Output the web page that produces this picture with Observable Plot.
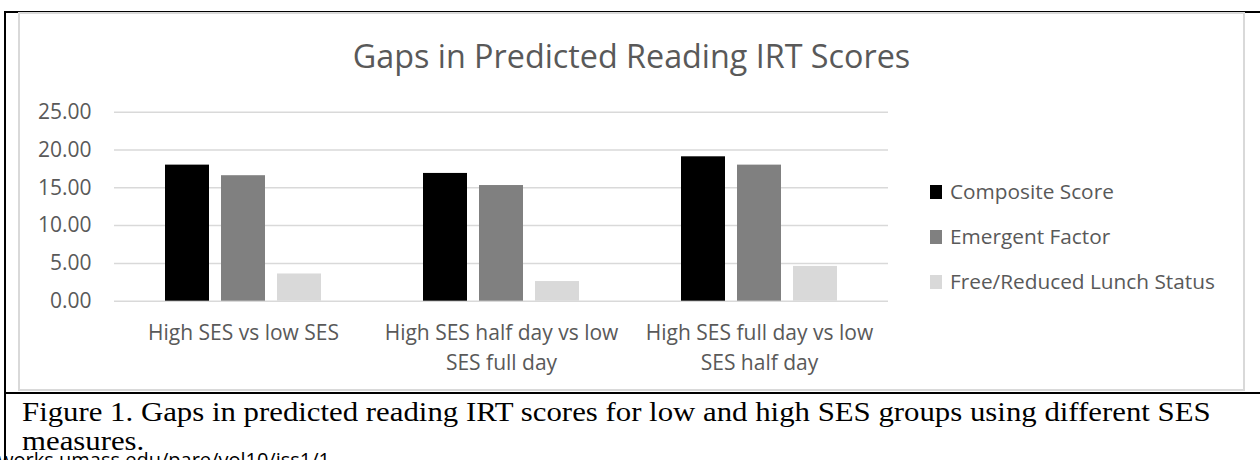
<!DOCTYPE html>
<html>
<head>
<meta charset="utf-8">
<script src="https://cdn.jsdelivr.net/npm/d3@7"></script>
<script src="https://cdn.jsdelivr.net/npm/@observablehq/plot@0.6"></script>
<style>
  html, body { margin: 0; padding: 0; background: #fff; }
  #page { position: relative; width: 1260px; height: 460px; overflow: hidden; background: #fff; }
  .blk { position: absolute; background: #000; }
  #frame { position: absolute; left: 18px; top: 12px; width: 1223px; height: 375px; border: 2px solid #d9d9d9; background: #fff; }
  #title { position: absolute; left: 18px; width: 1227px; top: 39px; text-align: center; font-family: "Open Sans", sans-serif; font-size: 32.3px; line-height: 32px; color: #595959; white-space: nowrap; }
  #chart { position: absolute; left: 20px; top: 90px; }
  .lg-sw { position: absolute; width: 12px; height: 14px; }
  .lg-tx { position: absolute; font-family: "Open Sans", sans-serif; font-size: 20.8px; line-height: 20px; color: #595959; white-space: nowrap; }
  #caption { position: absolute; left: 22px; top: 398px; font-family: "Liberation Serif", serif; font-size: 28px; line-height: 28.5px; color: #000; white-space: nowrap; transform: scaleX(1.1); transform-origin: 0 0; }
  #url { position: absolute; right: 930px; top: 450px; font-family: "Open Sans", sans-serif; font-size: 20px; line-height: 20px; color: #000; white-space: nowrap; }
</style>
</head>
<body>
<div id="page">
  <div class="blk" style="left:4px;top:11px;width:1256px;height:2px;"></div>
  <div class="blk" style="left:4px;top:11px;width:2px;height:449px;"></div>
  <div class="blk" style="left:4px;top:392px;width:1256px;height:2px;"></div>
  <div id="frame"></div>
  <div id="title"></div>
  <div id="chart"></div>
  <div id="legend"></div>
  <div id="url"></div>
  <div id="caption"></div>
</div>
<script>
const titleText = "Gaps in Predicted Reading IRT Scores";
const categories = ["High SES vs low SES", "High SES half day vs low SES full day", "High SES full day vs low SES half day"];
const categoryLabels = ["High SES vs low SES", "High SES half day vs low\nSES full day", "High SES full day vs low\nSES half day"];
const series = ["Composite Score", "Emergent Factor", "Free/Reduced Lunch Status"];
const composite = [18.0, 16.9, 19.1];
const emergent = [16.6, 15.3, 18.0];
const freeLunch = [3.6, 2.6, 4.6];
const seriesColors = ["#000000", "#808080", "#d9d9d9"];
const yTicks = [0, 5, 10, 15, 20, 25];
const captionLines = ["Figure 1. Gaps in predicted reading IRT scores for low and high SES groups using different SES", "measures."];
const urlText = "https://scholarworks.umass.edu/pare/vol10/iss1/1";

const values = [composite, emergent, freeLunch];
const rows = [];
categories.forEach((c, i) => series.forEach((s, j) => rows.push({category: c, series: s, value: values[j][i]})));

document.getElementById("title").textContent = titleText;

const fmt = d3.format(".2f");
const chart = Plot.plot({
  width: 880,
  height: 300,
  marginLeft: 93,
  marginRight: 11.3,
  marginTop: 21.7,
  marginBottom: 89.3,
  style: {fontFamily: "Open Sans", fontSize: "21px", color: "#595959", background: "transparent", overflow: "visible"},
  fx: {domain: categories, padding: 0, label: null},
  x: {domain: series, paddingInner: 0.21, paddingOuter: 0.87, axis: null},
  y: {domain: [0, 25], label: null},
  color: {domain: series, range: seriesColors},
  marks: [
    Plot.ruleY(yTicks, {stroke: "#d9d9d9", strokeWidth: 1.5}),
    Plot.barY(rows, {fx: "category", x: "series", y: "value", fill: "series", inset: 0}),
    Plot.axisY({ticks: yTicks, tickSize: 0, tickPadding: 23, tickFormat: fmt, label: null, fontSize: 21}),
    Plot.axisFx({anchor: "bottom", tickSize: 0, tickPadding: 17, lineHeight: 1.45, label: null, fontSize: 21,
      tickFormat: d => categoryLabels[categories.indexOf(d)]})
  ]
});
document.getElementById("chart").appendChild(chart);

const legend = document.getElementById("legend");
const baselines = [199, 244, 289];
series.forEach((s, i) => {
  const sw = document.createElement("div");
  sw.className = "lg-sw";
  sw.style.left = "930px";
  sw.style.top = (baselines[i] - 14) + "px";
  sw.style.background = seriesColors[i];
  legend.appendChild(sw);
  const tx = document.createElement("div");
  tx.className = "lg-tx";
  tx.style.left = "950px";
  tx.style.top = (baselines[i] - 18.2) + "px";
  tx.textContent = s;
  legend.appendChild(tx);
});

document.getElementById("caption").innerHTML = captionLines.join("<br>");
document.getElementById("url").textContent = urlText;
</script>
</body>
</html>
